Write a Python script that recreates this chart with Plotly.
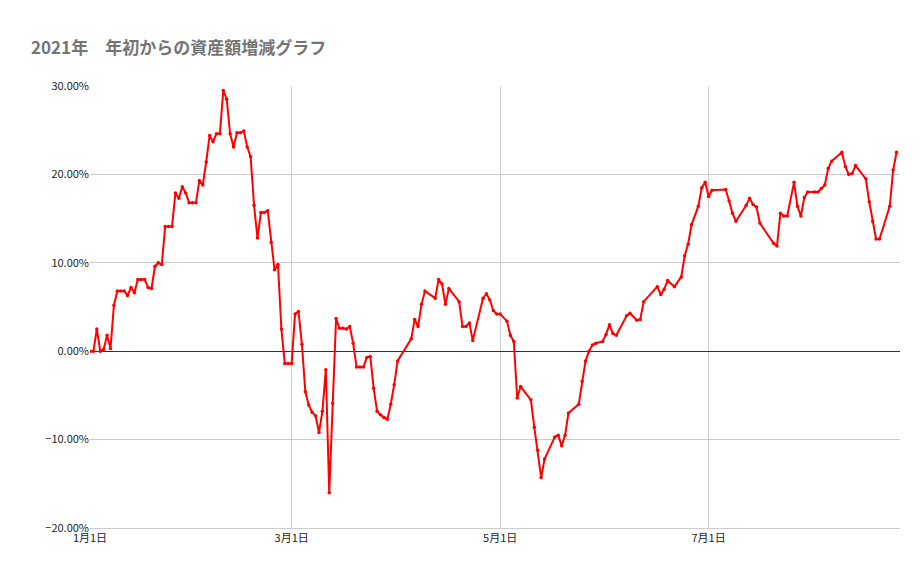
import plotly.graph_objects as go
import pandas as pd

day_offsets = [0,1,2,3,4,5,6,7,8,9,10,11,12,13,14,15,16,17,18,19,20,21,22,23,24,25,26,27,28,29,30,31,32,33,34,35,36,37,38,39,40,41,42,43,44,45,46,47,48,49,50,51,52,53,54,55,56,57,58,59,60,61,62,63,64,65,66,67,68,69,70,71,72,73,74,75,76,77,78,79,80,81,82,83,84,85,86,87,88,89,90,94,95,96,97,98,101,102,103,104,105,108,109,110,111,112,115,116,117,118,119,120,122,123,124,125,126,129,130,131,132,133,136,137,138,139,140,143,144,145,146,147,148,150,151,152,153,154,157,158,160,161,162,166,167,168,169,171,173,174,175,176,178,179,180,181,182,186,187,188,189,192,193,194,195,196,200,201,202,203,204,206,207,208,209,210,212,213,214,215,216,217,220,221,222,223,224,227,228,229,230,231,234,235,236]
values_pct = [0,0,2.5,0,0.2,1.8,0.3,5.2,6.8,6.8,6.8,6.3,7.2,6.6,8.1,8.1,8.1,7.2,7.1,9.6,10.0,9.8,14.1,14.1,14.1,17.9,17.3,18.6,17.9,16.8,16.8,16.8,19.3,18.8,21.4,24.4,23.7,24.6,24.6,29.5,28.5,24.6,23.1,24.7,24.7,24.9,23.1,22.0,16.5,12.8,15.7,15.7,15.9,12.3,9.2,9.8,2.5,-1.4,-1.4,-1.4,4.2,4.5,0.8,-4.6,-6.1,-6.9,-7.3,-9.2,-6.8,-2.1,-16.0,-5.9,3.7,2.6,2.6,2.5,2.8,0.9,-1.8,-1.8,-1.8,-0.7,-0.6,-4.2,-6.8,-7.2,-7.5,-7.7,-6.0,-3.8,-1.1,1.4,3.6,2.8,5.3,6.8,6.0,8.1,7.6,5.3,7.1,5.6,2.8,2.8,3.2,1.2,6.0,6.5,5.8,4.6,4.2,4.2,3.4,1.8,1.1,-5.3,-4.0,-5.5,-8.6,-11.2,-14.3,-12.2,-9.7,-9.5,-10.7,-9.5,-7.0,-6.0,-3.4,-1.1,0,0.7,0.9,1.1,1.9,3.0,2.0,1.8,4.0,4.3,3.5,3.6,5.6,7.3,6.4,7.0,8.0,7.3,8.4,10.8,12.1,14.3,16.4,18.5,19.1,17.5,18.2,18.3,17.0,15.6,14.7,16.5,17.3,16.6,16.3,14.5,12.2,11.9,15.6,15.3,15.3,19.1,16.4,15.3,17.4,18.0,18.0,18.0,18.4,18.8,20.7,21.5,22.5,20.9,20.0,20.1,21.0,19.5,16.9,14.7,12.7,12.7,16.4,20.5,22.5]
tick_dates = ["2021-01-01","2021-03-01","2021-05-01","2021-07-01"]
tick_labels = ["1月1日","3月1日","5月1日","7月1日"]

dates = pd.Timestamp("2021-01-01") + pd.to_timedelta(day_offsets, unit="D")
vals = [v/100 for v in values_pct]

fig = go.Figure(go.Scatter(x=dates, y=vals, mode="lines+markers",
    line=dict(color="#ff0000", width=2), marker=dict(color="#ff0000", size=3.5)))
fig.update_layout(
    width=921, height=569, plot_bgcolor="white", paper_bgcolor="white",
    margin=dict(l=82, r=29, t=78, b=49, autoexpand=False), showlegend=False,
    font=dict(family="Noto Sans CJK JP, Roboto, sans-serif", size=11, color="#222"),
    title=dict(text="<b>2021年　年初からの資産額増減グラフ</b>", x=0.025, xanchor="left",
               y=0.93, yanchor="middle", font=dict(size=17, color="#757575")),
)
fig.update_xaxes(range=[pd.Timestamp("2021-01-01"), pd.Timestamp("2021-08-26")],
    tickvals=tick_dates, ticktext=tick_labels, showgrid=True, gridcolor="#cccccc",
    showline=True, linecolor="#cccccc", ticks="", zeroline=False, automargin=False)
fig.update_yaxes(range=[-0.2, 0.3], dtick=0.1, tickformat=".2%", showgrid=True, gridcolor="#cccccc",
    zeroline=True, zerolinecolor="#333333", zerolinewidth=1, ticks="", automargin=False)
fig.write_html("out.html")
